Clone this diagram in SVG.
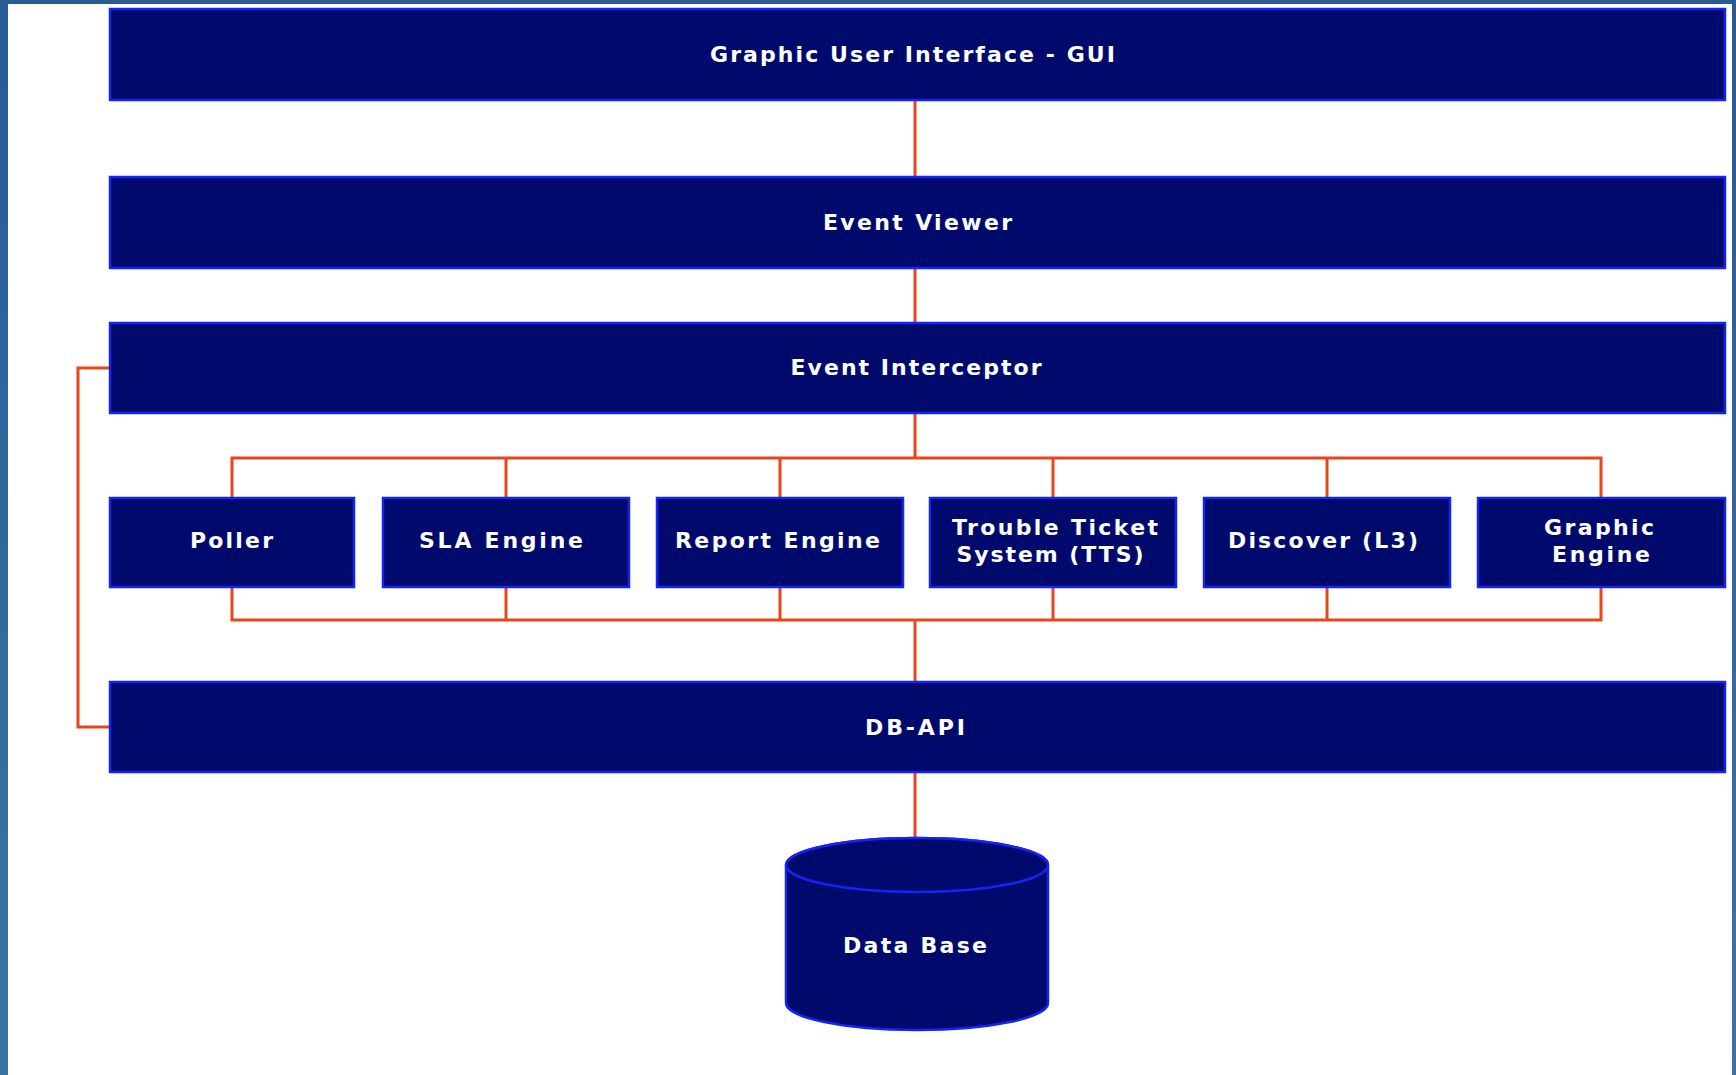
<svg xmlns="http://www.w3.org/2000/svg" width="1736" height="1075" viewBox="0 0 1736 1075">
<defs>
<linearGradient id="bg" x1="0" y1="0" x2="0" y2="1">
<stop offset="0" stop-color="#2a5a92"/>
<stop offset="1" stop-color="#3a74a6"/>
</linearGradient>
<style>
.box{fill:#000a6c;stroke:#1424f8;stroke-width:2.5}
.lbl{font-family:"DejaVu Sans","Liberation Sans",Arial,sans-serif;font-weight:bold;font-size:22px;fill:#ffffff;text-anchor:middle}
.con{fill:none;stroke:#e8451c;stroke-width:3}
</style>
</defs>
<rect x="0" y="0" width="1736" height="1075" fill="url(#bg)"/>
<rect x="8" y="4" width="1724" height="1071" fill="#ffffff"/>
<g id="connectors">
<line class="con" x1="915" y1="100" x2="915" y2="177"/>
<line class="con" x1="915" y1="268" x2="915" y2="323"/>
<line class="con" x1="915" y1="413" x2="915" y2="458"/>
<polyline class="con" points="232,498 232,458 1601,458 1601,498"/>
<line class="con" x1="506" y1="458" x2="506" y2="498"/>
<line class="con" x1="780" y1="458" x2="780" y2="498"/>
<line class="con" x1="1053" y1="458" x2="1053" y2="498"/>
<line class="con" x1="1327" y1="458" x2="1327" y2="498"/>
<polyline class="con" points="232,587 232,620 1601,620 1601,587"/>
<line class="con" x1="506" y1="587" x2="506" y2="620"/>
<line class="con" x1="780" y1="587" x2="780" y2="620"/>
<line class="con" x1="1053" y1="587" x2="1053" y2="620"/>
<line class="con" x1="1327" y1="587" x2="1327" y2="620"/>
<line class="con" x1="915" y1="620" x2="915" y2="682"/>
<polyline class="con" points="110,368 78,368 78,727 110,727"/>
<line class="con" x1="915" y1="772" x2="915" y2="838"/>
</g>
<g id="gui"><rect class="box" x="110" y="9" width="1615" height="91"/><text class="lbl" x="912.5" y="62" textLength="405" lengthAdjust="spacing">Graphic User Interface - GUI</text></g>
<g id="event-viewer"><rect class="box" x="110" y="177" width="1615" height="91"/><text class="lbl" x="917.5" y="230" textLength="189" lengthAdjust="spacing">Event Viewer</text></g>
<g id="event-interceptor"><rect class="box" x="110" y="323" width="1615" height="90"/><text class="lbl" x="916" y="375" textLength="251" lengthAdjust="spacing">Event Interceptor</text></g>
<g id="poller"><rect class="box" x="110" y="498" width="244" height="89"/><text class="lbl" x="231.5" y="548" textLength="83" lengthAdjust="spacing">Poller</text></g>
<g id="sla-engine"><rect class="box" x="383" y="498" width="246" height="89"/><text class="lbl" x="501" y="548" textLength="164" lengthAdjust="spacing">SLA Engine</text></g>
<g id="report-engine"><rect class="box" x="657" y="498" width="246" height="89"/><text class="lbl" x="777.5" y="548" textLength="205" lengthAdjust="spacing">Report Engine</text></g>
<g id="tts"><rect class="box" x="930" y="498" width="246" height="89"/><text class="lbl" x="1055" y="535" textLength="206" lengthAdjust="spacing">Trouble Ticket</text><text class="lbl" x="1050" y="562" textLength="187" lengthAdjust="spacing">System (TTS)</text></g>
<g id="discover"><rect class="box" x="1204" y="498" width="246" height="89"/><text class="lbl" x="1323" y="548" textLength="190" lengthAdjust="spacing">Discover (L3)</text></g>
<g id="graphic-engine"><rect class="box" x="1478" y="498" width="247" height="89"/><text class="lbl" x="1599" y="535" textLength="110" lengthAdjust="spacing">Graphic</text><text class="lbl" x="1601" y="562" textLength="98" lengthAdjust="spacing">Engine</text></g>
<g id="db-api"><rect class="box" x="110" y="682" width="1615" height="90"/><text class="lbl" x="915" y="735" textLength="100" lengthAdjust="spacing">DB-API</text></g>
<g id="database">
<path class="box" d="M786,865 L786,1003 A131,27 0 0 0 1048,1003 L1048,865 A131,27 0 0 0 786,865 Z"/>
<ellipse class="box" cx="917" cy="865" rx="131" ry="27"/>
<text class="lbl" x="915" y="953" textLength="144" lengthAdjust="spacing">Data Base</text>
</g>
</svg>
